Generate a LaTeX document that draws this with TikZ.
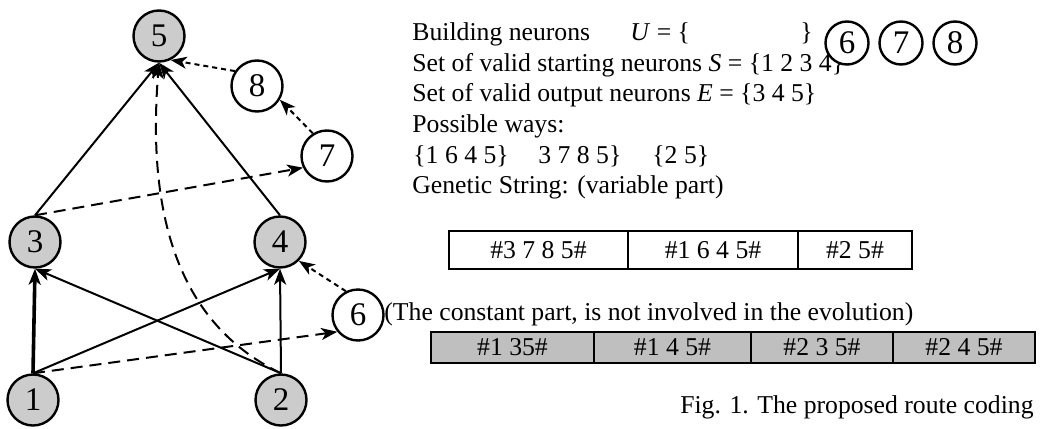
\documentclass[tikz,border=0pt]{standalone}
\usepackage{fontspec}
\setmainfont{Liberation Serif}
\usetikzlibrary{arrows.meta}
\begin{document}
\begin{tikzpicture}[x=0.5pt,y=-0.5pt,
  gnode/.style={circle, draw, line width=1.2pt, fill=gray!40, minimum size=25.5pt, inner sep=0pt, font=\fontsize{16.5}{16.5}\selectfont},
  wnode/.style={gnode, fill=white},
  hnode/.style={wnode, minimum size=21.5pt},
  arr/.style={line width=1pt, -{Stealth[length=8pt,width=6pt,inset=2.2pt]}},
  thickarr/.style={arr, line width=1.8pt},
  dasharr/.style={arr, dash pattern=on 6pt off 3.5pt},
  dotarr/.style={arr, dash pattern=on 2.5pt off 2pt},
  txt/.style={anchor=base west, inner sep=0pt, font=\fontsize{12.85}{15}\selectfont},
  cell/.style={draw, line width=1.1pt, rectangle, inner sep=0pt, outer sep=0pt, font=\fontsize{12.85}{15}\selectfont},
  gcell/.style={cell, fill=gray!50}
]
\useasboundingbox (0,0) rectangle (1042,428);

% graph nodes
\node[gnode] (n5) at (159,36) {5};
\node[wnode] (n8) at (257,86) {8};
\node[wnode] (n7) at (327,156) {7};
\node[gnode] (n3) at (35,242) {3};
\node[gnode] (n4) at (280,242) {4};
\node[wnode] (n6) at (358,315) {6};
\node[gnode] (n1) at (33,400) {1};
\node[gnode] (n2) at (281,400) {2};

% solid edges
\draw[thickarr] (n1.north) -- (n3.south);
\draw[arr] (n1.north) -- (n4.south);
\draw[arr] (n2.north) -- (n3.south);
\draw[arr] (n2.north) -- (n4.south);
\draw[arr] (n3.north) -- (n5.south);
\draw[arr] (n4.north) -- (n5.south);

% dashed edges
\draw[dasharr] (n1.north) -- (n6.219);
\draw[dasharr] (n3.north) -- (n7.206);
\draw[dasharr] (n2.north) .. controls (170,320) and (148,200) .. (n5.south);

% dotted edges
\draw[dotarr] (n6.117) -- (n4.-45);
\draw[dotarr] (n7.122) -- (n8.-31);
\draw[dotarr] (n8.146) -- (n5.-64);

% text
\node[txt] (t1) at (412,40) {Building neurons};
\node[txt] (t1b) at (630,40) {\textit{U} = \{};
\node[txt] (t1c) at (800,40) {\}};
\node[txt] (t2) at (412,71) {Set of valid starting neurons \textit{S} = \{1 2 3 4\}};
\node[txt] (t3) at (412,101) {Set of valid output neurons \textit{E} = \{3 4 5\}};
\node[txt] (t4) at (412,132) {Possible ways:};
\node[txt] (t5a) at (413,163) {\{1 6 4 5\}};
\node[txt] (t5b) at (538,163) {3 7 8 5\}};
\node[txt] (t5c) at (652,163) {\{2 5\}};
\node[txt] (t6) at (412,193) {Genetic String: (variable part)};

\node[hnode] (h6) at (847,43) {6};
\node[hnode] (h7) at (901,43) {7};
\node[hnode] (h8) at (955,43) {8};

% variable part table
\node[cell, minimum width=89.5pt, minimum height=19pt] (v1) at (538.5,250) {\#3 7 8 5\#};
\node[cell, minimum width=85pt, minimum height=19pt] (v2) at (713,250) {\#1 6 4 5\#};
\node[cell, minimum width=57pt, minimum height=19pt] (v3) at (855,250) {\#2 5\#};

\node[txt] (t7) at (384,320) {(The constant part, is not involved in the evolution)};

% constant part table
\node[gcell, minimum width=81.5pt, minimum height=15.5pt] (c1) at (512.5,347.5) {\#1 35\#};
\node[gcell, minimum width=78.5pt, minimum height=15.5pt] (c2) at (672.5,347.5) {\#1 4 5\#};
\node[gcell, minimum width=71pt, minimum height=15.5pt] (c3) at (822,347.5) {\#2 3 5\#};
\node[gcell, minimum width=71pt, minimum height=15.5pt] (c4) at (964,347.5) {\#2 4 5\#};

\node[txt, anchor=base east] (cap) at (1034,413) {Fig. 1. The proposed route coding};
\end{tikzpicture}
\end{document}
